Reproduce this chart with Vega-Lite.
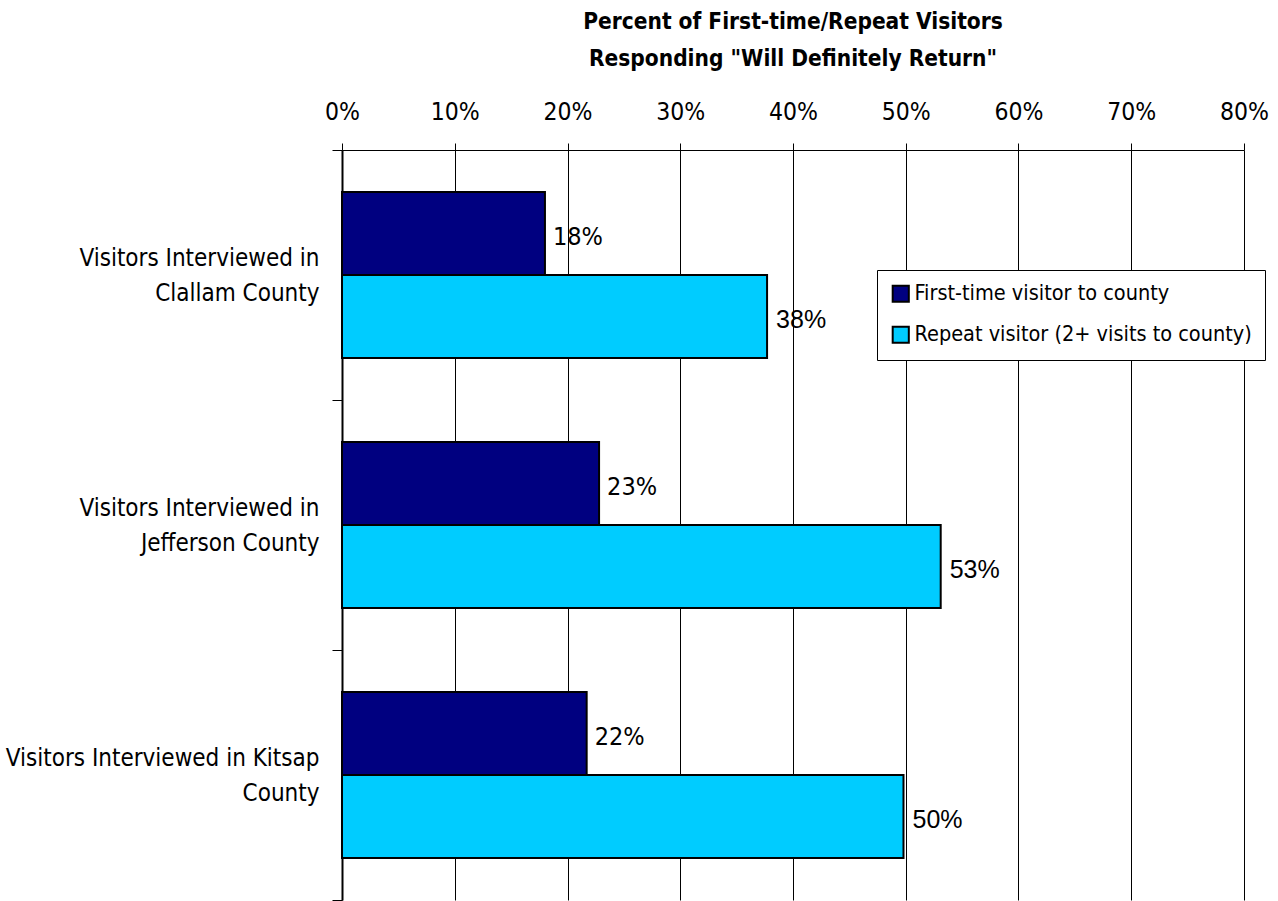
{
  "$schema": "https://vega.github.io/schema/vega-lite/v6.json",
  "width": 902,
  "height": 750,
  "autosize": {"type": "none"},
  "padding": {"left": 342, "top": 150, "right": 34, "bottom": 1},
  "background": "white",
  "config": {
    "view": {"stroke": null},
    "font": "DejaVu Sans Condensed, sans-serif"
  },
  "title": {
    "text": ["Percent of First-time/Repeat Visitors", "Responding \"Will Definitely Return\""],
    "font": "DejaVu Sans Condensed, sans-serif",
    "fontSize": 22.5,
    "fontWeight": "bold",
    "color": "black",
    "anchor": "middle",
    "lineHeight": 37,
    "offset": 29
  },
  "data": {
    "values": [
      {"county": "Visitors Interviewed in|Clallam County", "type": "First-time visitor to county", "value": 0.180},
      {"county": "Visitors Interviewed in|Clallam County", "type": "Repeat visitor (2+ visits to county)", "value": 0.377},
      {"county": "Visitors Interviewed in|Jefferson County", "type": "First-time visitor to county", "value": 0.228},
      {"county": "Visitors Interviewed in|Jefferson County", "type": "Repeat visitor (2+ visits to county)", "value": 0.531},
      {"county": "Visitors Interviewed in Kitsap|County", "type": "First-time visitor to county", "value": 0.217},
      {"county": "Visitors Interviewed in Kitsap|County", "type": "Repeat visitor (2+ visits to county)", "value": 0.498}
    ]
  },
  "encoding": {
    "y": {
      "field": "county",
      "type": "nominal",
      "sort": null,
      "scale": {"paddingInner": 0, "paddingOuter": 0},
      "axis": {
        "title": null,
        "orient": "left",
        "labelExpr": "split(datum.label, '|')",
        "labelFont": "DejaVu Sans Condensed, sans-serif",
        "labelFontSize": 24,
        "labelColor": "black",
        "labelLineHeight": 35,
        "labelAlign": "right",
        "labelBaseline": "middle",
        "labelOffset": -17,
        "labelPadding": 13,
        "labelLimit": 400,
        "tickBand": "extent",
        "tickSize": 10,
        "tickColor": "black",
        "tickWidth": 1,
        "domainColor": "black",
        "domainWidth": 2,
        "grid": false
      }
    },
    "yOffset": {
      "field": "type",
      "type": "nominal",
      "sort": ["First-time visitor to county", "Repeat visitor (2+ visits to county)"],
      "scale": {"paddingInner": 0, "paddingOuter": 0.506}
    },
    "x": {
      "field": "value",
      "type": "quantitative",
      "scale": {"domain": [0, 0.8], "nice": false},
      "axis": {
        "title": null,
        "orient": "top",
        "format": ".0%",
        "values": [0, 0.1, 0.2, 0.3, 0.4, 0.5, 0.6, 0.7, 0.8],
        "labelFont": "DejaVu Sans Condensed, sans-serif",
        "labelFontSize": 24.5,
        "labelColor": "black",
        "labelPadding": 19,
        "labelFlush": false,
        "tickSize": 7,
        "tickColor": "black",
        "domainColor": "black",
        "domainWidth": 1,
        "grid": true,
        "gridColor": "black",
        "gridOpacity": 1,
        "gridWidth": 1
      }
    }
  },
  "layer": [
    {
      "mark": {"type": "bar", "stroke": "black", "strokeWidth": 2},
      "encoding": {
        "color": {
          "field": "type",
          "type": "nominal",
          "sort": ["First-time visitor to county", "Repeat visitor (2+ visits to county)"],
          "scale": {
            "domain": ["First-time visitor to county", "Repeat visitor (2+ visits to county)"],
            "range": ["#000080", "#00CCFF"]
          },
          "legend": {
            "title": null,
            "orient": "none",
            "legendX": 535,
            "legendY": 120,
            "fillColor": "white",
            "strokeColor": "black",
            "padding": 13,
            "rowPadding": 16,
            "symbolType": "square",
            "symbolSize": 260,
            "symbolStrokeColor": "black",
            "symbolStrokeWidth": 2,
            "symbolOpacity": 1,
            "labelFont": "DejaVu Sans Condensed, sans-serif",
            "labelFontSize": 21.5,
            "labelColor": "black",
            "labelLimit": 400,
            "labelOffset": 3
          }
        }
      }
    },
    {
      "transform": [{"filter": "datum.type == 'First-time visitor to county'"}],
      "mark": {
        "type": "text",
        "align": "left",
        "baseline": "middle",
        "dx": 8,
        "dy": 4,
        "font": "DejaVu Sans Condensed, sans-serif",
        "fontSize": 25,
        "color": "black"
      },
      "encoding": {"text": {"field": "value", "type": "quantitative", "format": ".0%"}}
    },
    {
      "transform": [{"filter": "datum.type == 'Repeat visitor (2+ visits to county)'"}],
      "mark": {
        "type": "text",
        "align": "left",
        "baseline": "middle",
        "dx": 9,
        "dy": 3,
        "font": "Liberation Sans, Arial, sans-serif",
        "fontSize": 25,
        "color": "black"
      },
      "encoding": {"text": {"field": "value", "type": "quantitative", "format": ".0%"}}
    }
  ]
}
